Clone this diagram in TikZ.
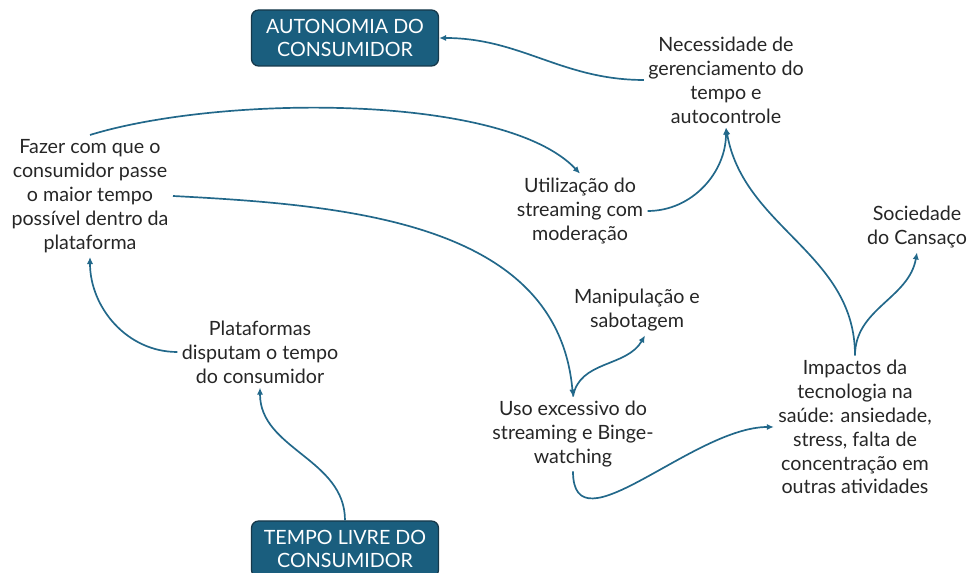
\documentclass[tikz,border=0pt]{standalone}
\usepackage{fontspec}
\setmainfont{Lato}
\usetikzlibrary{arrows.meta}
\definecolor{boxblue}{RGB}{26,94,126}
\definecolor{boxedge}{RGB}{22,56,74}
\definecolor{linkblue}{RGB}{34,104,138}
\definecolor{txtgray}{RGB}{38,38,38}
\tikzset{
  idea/.style={align=center, text=txtgray, font=\fontsize{14}{17}\selectfont, inner sep=3pt},
  keybox/.style={draw=boxedge, fill=boxblue, text=white, rounded corners=5pt, align=center,
    minimum width=4.675cm, minimum height=1.4cm, font=\fontsize{14}{17}\selectfont, line width=0.9pt},
  link/.style={draw=linkblue, line width=1.2pt, -{Latex[length=5pt,width=4.5pt]}}
}
\begin{document}
\begin{tikzpicture}
\useasboundingbox (0,0) rectangle (24.25,14.325);

\node[keybox] (auto) at (8.625,13.375) {AUTONOMIA DO\\CONSUMIDOR};
\node[keybox] (tempo) at (8.625,0.6) {TEMPO LIVRE DO\\CONSUMIDOR};

\node[idea] (nec) at (18.15,12.325) {Necessidade de\\gerenciamento do\\tempo e\\autocontrole};
\node[idea] (fazer) at (2.25,9.425) {Fazer com que o\\consumidor passe\\o maior tempo\\possível dentro da\\plataforma};
\node[idea] (util) at (14.5,9.05) {Utilização do\\streaming com\\moderação};
\node[idea] (soc) at (22.925,8.65) {Sociedade\\do Cansaço};
\node[idea] (manip) at (15.925,6.575) {Manipulação e\\sabotagem};
\node[idea] (plat) at (6.5,5.525) {Plataformas\\disputam o tempo\\do consumidor};
\node[idea] (uso) at (14.325,3.475) {Uso excessivo do\\streaming e Binge-\\watching};
\node[idea] (imp) at (21.375,3.65) {Impactos da\\tecnologia na\\saúde: ansiedade,\\stress, falta de\\concentração em\\outras atividades};

\draw[link] (nec.west) to[out=180, in=0] (auto.east);
\draw[link] (fazer.north) .. controls (5.5,11.95) and (12.6,12.0) .. (util.north);
\draw[link] (fazer.east) to[out=-3, in=95] (uso.north);
\draw[link] (plat.west) to[out=180, in=270] (fazer.south);
\draw[link] (tempo.north) to[out=90, in=270] (plat.south);
\draw[link] (uso.north) to[out=80, in=240] ([xshift=0.2cm]manip.south);
\draw[link] (uso.south) to[out=-90, in=180] (imp.west);
\draw[link] (util.east) to[out=0, in=270] (nec.south);
\draw[link] (imp.north) to[out=90, in=-80] (nec.south);
\draw[link] (imp.north) to[out=90, in=260] (soc.south);

\end{tikzpicture}
\end{document}
